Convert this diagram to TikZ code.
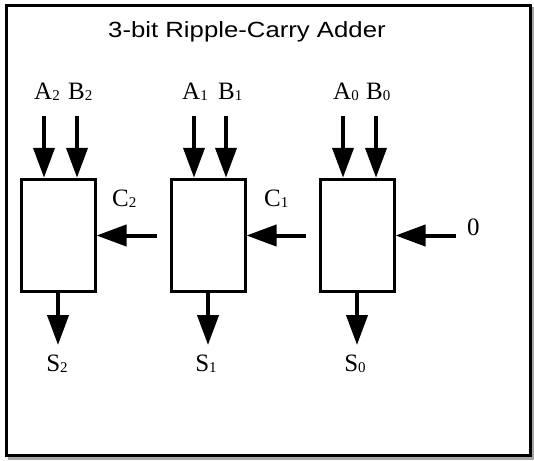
\documentclass[tikz,border=0pt]{standalone}
\usepackage{fontspec}
\setmainfont{Liberation Serif}
\newfontfamily\titlefont[FakeStretch=1.17]{Liberation Sans}
\usetikzlibrary{arrows.meta,calc}
\newcommand\sbs[1]{\raisebox{-1.5pt}{\fontsize{15}{15}\selectfont #1}}
\begin{document}
\begin{tikzpicture}[x=1pt,y=-1pt,
  adder/.style={draw, line width=3pt, minimum width=74pt, minimum height=112.5pt, inner sep=0pt, fill=white},
  sig/.style={line width=4pt, -{Triangle[length=30pt,width=21pt]}},
  lbl/.style={font=\fontsize{25}{25}\selectfont, inner sep=0pt},
  ttl/.style={font=\titlefont\fontsize{22}{22}\selectfont, inner sep=0pt}]
\useasboundingbox (0,0) rectangle (534,460);
% frame with shadow
\draw[gray!70, line width=3pt] (9,9) rectangle (533,458);
\draw[line width=3pt, fill=white] (6,6) rectangle (530,455);
% title
\node[ttl, anchor=base west] (title) at (108,37.3) {3-bit Ripple-Carry Adder};
% full adders
\node[adder] (fa2) at (58,235.5) {};
\node[adder] (fa1) at (208,235.5) {};
\node[adder] (fa0) at (357,235.5) {};
% input coordinates
\coordinate (a2) at (44,116);  \coordinate (b2) at (77,116);
\coordinate (a1) at (194,116); \coordinate (b1) at (226,116);
\coordinate (a0) at (343,116); \coordinate (b0) at (376,116);
\draw[sig] (a2) -- (a2 |- fa2.north);
\draw[sig] (b2) -- (b2 |- fa2.north);
\draw[sig] (a1) -- (a1 |- fa1.north);
\draw[sig] (b1) -- (b1 |- fa1.north);
\draw[sig] (a0) -- (a0 |- fa0.north);
\draw[sig] (b0) -- (b0 |- fa0.north);
% carries
\coordinate (cin) at (456,235.5);
\coordinate (c1s) at (306,235.5);
\coordinate (c2s) at (156.5,235.5);
\draw[sig] (cin) -- (fa0.east);
\draw[sig] (c1s) -- (fa1.east);
\draw[sig] (c2s) -- (fa2.east);
% outputs
\coordinate (s2t) at (58,345);
\coordinate (s1t) at (208,345);
\coordinate (s0t) at (357,345);
\draw[sig] (fa2.south) -- (s2t);
\draw[sig] (fa1.south) -- (s1t);
\draw[sig] (fa0.south) -- (s0t);
% labels
\node[lbl, anchor=base west] (la2) at (34,99) {A\sbs{2}};
\node[lbl, anchor=base west] (lb2) at (68,99) {B\sbs{2}};
\node[lbl, anchor=base west] (la1) at (182,99) {A\sbs{1}};
\node[lbl, anchor=base west] (lb1) at (218,99) {B\sbs{1}};
\node[lbl, anchor=base west] (la0) at (333,99) {A\sbs{0}};
\node[lbl, anchor=base west] (lb0) at (366,99) {B\sbs{0}};
\node[lbl, anchor=base west] (lc2) at (112,206) {C\sbs{2}};
\node[lbl, anchor=base west] (lc1) at (264,206) {C\sbs{1}};
\node[lbl, anchor=base west] (lzero) at (467,235) {0};
\node[lbl, anchor=base] (ls2) at (57,371) {S\sbs{2}};
\node[lbl, anchor=base] (ls1) at (206,371) {S\sbs{1}};
\node[lbl, anchor=base] (ls0) at (355,371) {S\sbs{0}};
\end{tikzpicture}
\end{document}
